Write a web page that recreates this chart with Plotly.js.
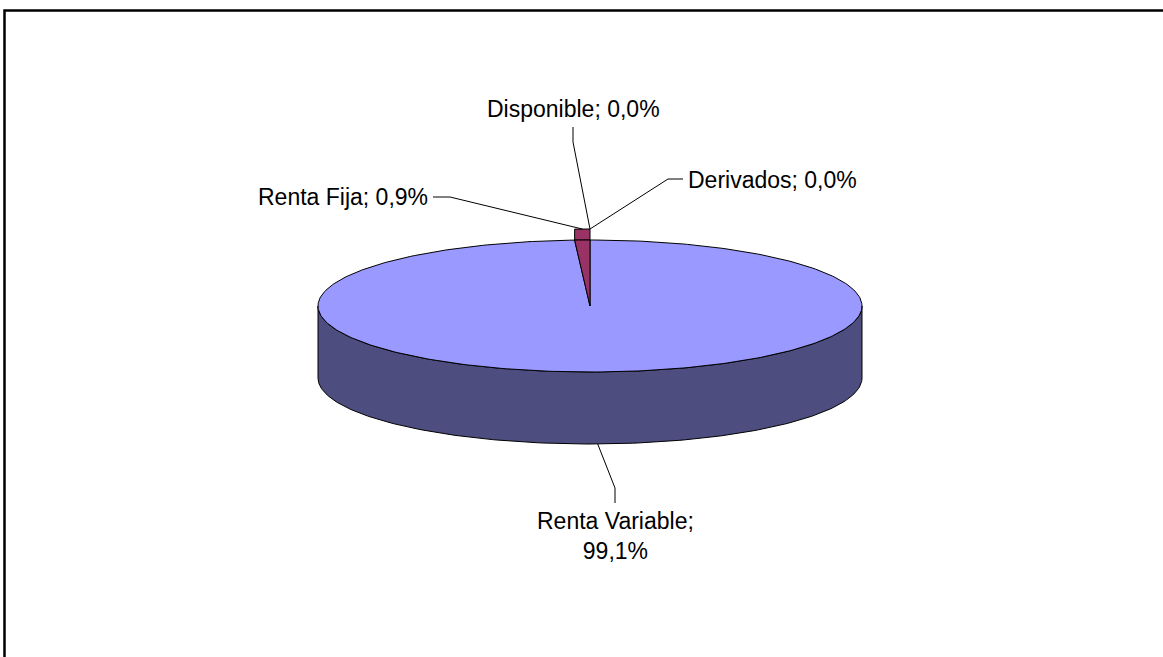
<!DOCTYPE html>
<html>
<head>
<meta charset="utf-8">
<script src="https://cdn.plot.ly/plotly-3.0.1.min.js"></script>
<style>html,body{margin:0;padding:0;background:#fff;}#chart{width:1163px;height:657px;}</style>
</head>
<body>
<div id="chart"></div>
<script>
// ---- data ----
const labels = ['Renta Variable', 'Renta Fija', 'Disponible', 'Derivados'];
const values = [99.1, 0.9, 0.0, 0.0];

// ---- styles / geometry (not data) ----
const topColors  = ['#9999FF', '#993366', '#FFFFCC', '#CCFFFF'];
const sideColors = ['#4D4D7F', '#4D1A33', '#80806A', '#6A8080'];
const geo = {cx: 590, cy: 306, rx: 272, ry: 66, depth: 72, lift: 11};
// label placement: text anchor point and elbow of leader line
const labelLayout = [
  {x: 615, y: 536, xanchor: 'center', elbow: [[615, 503], [615, 488]]},
  {x: 430, y: 197, xanchor: 'right',  elbow: [[433, 197], [450, 197]]},
  {x: 573, y: 109, xanchor: 'center', elbow: [[573, 127], [573, 142]]},
  {x: 686, y: 180, xanchor: 'left',   elbow: [[683, 179], [668, 179]]}
];

const total = values.reduce((a, b) => a + b, 0);
const rad = d => d * Math.PI / 180;
function pt(theta, dy) {
  return [geo.cx + geo.rx * Math.sin(rad(theta)), geo.cy - geo.ry * Math.cos(rad(theta)) + (dy || 0)];
}
function arc(a0, a1, dy) {
  const pts = [];
  const n = Math.max(2, Math.ceil(Math.abs(a1 - a0)));
  for (let i = 0; i <= n; i++) pts.push(pt(a0 + (a1 - a0) * i / n, dy));
  return pts;
}
function fmt(v) { return v.toFixed(1).replace('.', ',') + '%'; }

// slice angles (Excel: start at 12 o'clock, clockwise)
let cum = 0;
const slices = values.map((v, i) => {
  const a0 = cum / total * 360; cum += v; const a1 = cum / total * 360;
  return {i, a0, a1, mid: (a0 + a1) / 2, v};
});

const traces = [];
function poly(pts, fill) {
  traces.push({
    type: 'scatter', mode: 'lines', x: pts.map(p => p[0]), y: pts.map(p => p[1]),
    fill: 'toself', fillcolor: fill, line: {color: '#000', width: 1}, hoverinfo: 'skip'
  });
}

// side walls (front half 90..270)
slices.forEach(s => {
  const lo = Math.max(s.a0, 90), hi = Math.min(s.a1, 270);
  if (hi > lo) {
    const top = arc(lo, hi, 0);
    const bot = arc(hi, lo, geo.depth);
    poly(top.concat(bot, [top[0]]), sideColors[s.i]);
  }
});
// top faces
slices.forEach(s => {
  if (s.a1 - s.a0 <= 0) return;
  const raised = s.i > 0;
  if (raised) {
    const up = arc(s.a0, s.a1, -geo.lift);
    const down = arc(s.a1, s.a0, 0);
    poly(up.concat(down, [up[0]]), topColors[s.i]);
  }
  const c = [geo.cx, geo.cy];
  poly([c].concat(arc(s.a0, s.a1, 0), [c]), topColors[s.i]);
});

// leader lines + labels
const annotations = [];
slices.forEach(s => {
  const L = labelLayout[s.i];
  const cosm = Math.cos(rad(s.mid));
  const anchor = cosm < 0 ? pt(s.mid, geo.depth) : pt(s.mid, -geo.lift);
  const pts = L.elbow.concat([anchor]);
  traces.push({
    type: 'scatter', mode: 'lines', x: pts.map(p => p[0]), y: pts.map(p => p[1]),
    line: {color: '#000', width: 1}, hoverinfo: 'skip'
  });
  const txt = s.i === 0 ? labels[s.i] + ';<br>' + fmt(s.v) : labels[s.i] + '; ' + fmt(s.v);
  annotations.push({
    x: L.x, y: L.y, xref: 'x', yref: 'y', text: txt, showarrow: false,
    xanchor: L.xanchor, yanchor: 'middle', align: 'center',
    font: {family: 'Liberation Sans, Arial, sans-serif', size: 23, color: '#000'}
  });
});

const layout = {
  width: 1163, height: 657, margin: {l: 0, r: 0, t: 0, b: 0},
  paper_bgcolor: '#fff', plot_bgcolor: '#fff', showlegend: false,
  xaxis: {range: [0, 1163], visible: false, fixedrange: true},
  yaxis: {range: [657, 0], visible: false, fixedrange: true},
  annotations: annotations,
  shapes: [{type: 'rect', xref: 'x', yref: 'y', x0: 4.5, y0: 10.5, x1: 1175, y1: 670,
            line: {color: '#000', width: 2.5}, fillcolor: 'rgba(0,0,0,0)'}]
};
Plotly.newPlot('chart', traces, layout, {displayModeBar: false, staticPlot: true});
</script>
</body>
</html>
